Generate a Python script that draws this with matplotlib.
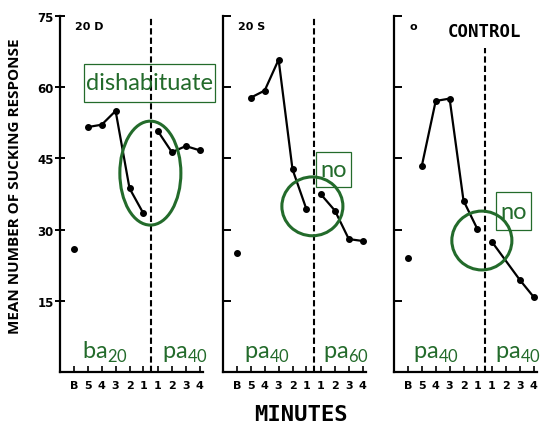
import matplotlib
matplotlib.use('Agg')
import matplotlib.pyplot as plt
import numpy as np
from matplotlib.patches import Ellipse, Rectangle

plt.rcParams['mathtext.fontset'] = 'custom'
plt.rcParams['mathtext.rm'] = 'Lato'

W, H = 540, 427
green = '#236b2b'

# data
pre_labels = ['B', '5', '4', '3', '2', '1']
post_labels = ['1', '2', '3', '4']
panel_titles = ['20 D', '20 S', 'o']
base_values = [25.9, 25.1, 24.0]
pre_values = [
    [51.6, 52.1, 55.0, 38.7, 33.4],
    [57.8, 59.3, 65.8, 42.7, 34.3],
    [43.4, 57.1, 57.6, 36.1, 30.1],
]
post_values = [
    [50.7, 46.3, 47.6, 46.7],
    [37.4, 34.0, 28.0, 27.6],
    [27.4, np.nan, 19.4, 15.8],
]
phase_left = ['ba$_{\\mathrm{20}}$', 'pa$_{\\mathrm{40}}$', 'pa$_{\\mathrm{40}}$']
phase_right = ['pa$_{\\mathrm{40}}$', 'pa$_{\\mathrm{60}}$', 'pa$_{\\mathrm{40}}$']
yticks = [15, 30, 45, 60, 75]

fig = plt.figure(figsize=(W / 100, H / 100), dpi=100)

ax_left_px = [60, 223, 394]
x_pre = np.arange(6)
x_post = 6.05 + np.arange(4)
x_split = 5.55

axes = []
for i in range(3):
    ax = fig.add_axes([ax_left_px[i] / W, (H - 373) / H, 142.5 / W, 356 / H])
    axes.append(ax)
    ax.set_xlim(-1.0, 9.25)
    ax.set_ylim(0, 75)
    for s in ['top', 'right']:
        ax.spines[s].set_visible(False)
    ax.spines['left'].set_linewidth(1.6)
    ax.spines['bottom'].set_linewidth(1.6)

    # baseline point, pre and post curves
    ax.plot(x_pre[:1], base_values[i:i + 1], 'o', color='black', ms=4)
    ax.plot(x_pre[1:], pre_values[i], '-o', color='black', lw=1.6, ms=4)
    pv = np.array(post_values[i])
    m = ~np.isnan(pv)
    ax.plot(x_post[m], pv[m], '-o', color='black', lw=1.6, ms=4)

    top = 0.91 if i == 2 else 0.997
    ax.axvline(x_split, ymax=top, color='black', lw=1.5, ls=(0, (3, 1.5)))

    ax.set_xticks(list(x_pre) + list(x_post), pre_labels + post_labels,
                  fontweight='bold')
    ax.tick_params(axis='x', direction='in', length=4, width=1.2, pad=6,
                   labelsize=8)
    if i == 0:
        ax.set_yticks(yticks, [str(t) for t in yticks], fontweight='bold')
        ax.tick_params(axis='y', direction='inout', length=7, width=1.4,
                       pad=1, labelsize=8.5)
    else:
        ax.set_yticks(yticks, ['' for t in yticks])
        ax.tick_params(axis='y', direction='in', length=6, width=1.4)

    ax.text(0.1, 72.9, panel_titles[i], fontsize=8, fontweight='bold',
            ha='left', va='center')

    ax.text([0.58, 0.5, 0.36][i], 2.9, phase_left[i], family='Lato',
            fontsize=17, color=green, ha='left', va='baseline')
    ax.text([6.33, 6.2, 6.26][i], 2.9, phase_right[i], family='Lato',
            fontsize=17, color=green, ha='left', va='baseline')

axes[2].text(5.54, 71.9, 'CONTROL', family='DejaVu Sans Mono',
             fontweight='bold', fontsize=12.5, ha='center', va='center')

# green annotations
ell = [(5.5, 41.9, 4.39, 21.9), (5.43, 34.9, 4.39, 12.4), (5.32, 27.7, 4.32, 12.4)]
for ax, (cx, cy, w, h) in zip(axes, ell):
    ax.add_patch(Ellipse((cx, cy), w, h, fill=False, ec=green, lw=2.2,
                         clip_on=False, zorder=5))

boxes = [(0.72, 56.9, 9.42, 8.0, 'dishabituate'),
         (5.68, 39.0, 2.52, 7.37, 'no'),
         (6.33, 29.9, 2.52, 8.0, 'no')]
for ax, (bx, by, bw, bh, txt) in zip(axes, boxes):
    ax.add_patch(Rectangle((bx, by), bw, bh, fill=False, ec=green, lw=0.9,
                           clip_on=False, zorder=5))
    ax.text(bx + bw / 2, by + bh / 2, txt, family='Lato', fontsize=17,
            color=green, ha='center', va='center', clip_on=False)

fig.text(15 / W, 1 - 186 / H, 'MEAN NUMBER OF SUCKING RESPONSE',
         family='Open Sans', fontweight='bold', fontsize=11, rotation=90,
         ha='center', va='center')
fig.text(301 / W, 1 - 415 / H, 'MINUTES', family='DejaVu Sans Mono',
         fontweight='bold', fontsize=16, ha='center', va='center')

fig.savefig('out.png', dpi=100)
